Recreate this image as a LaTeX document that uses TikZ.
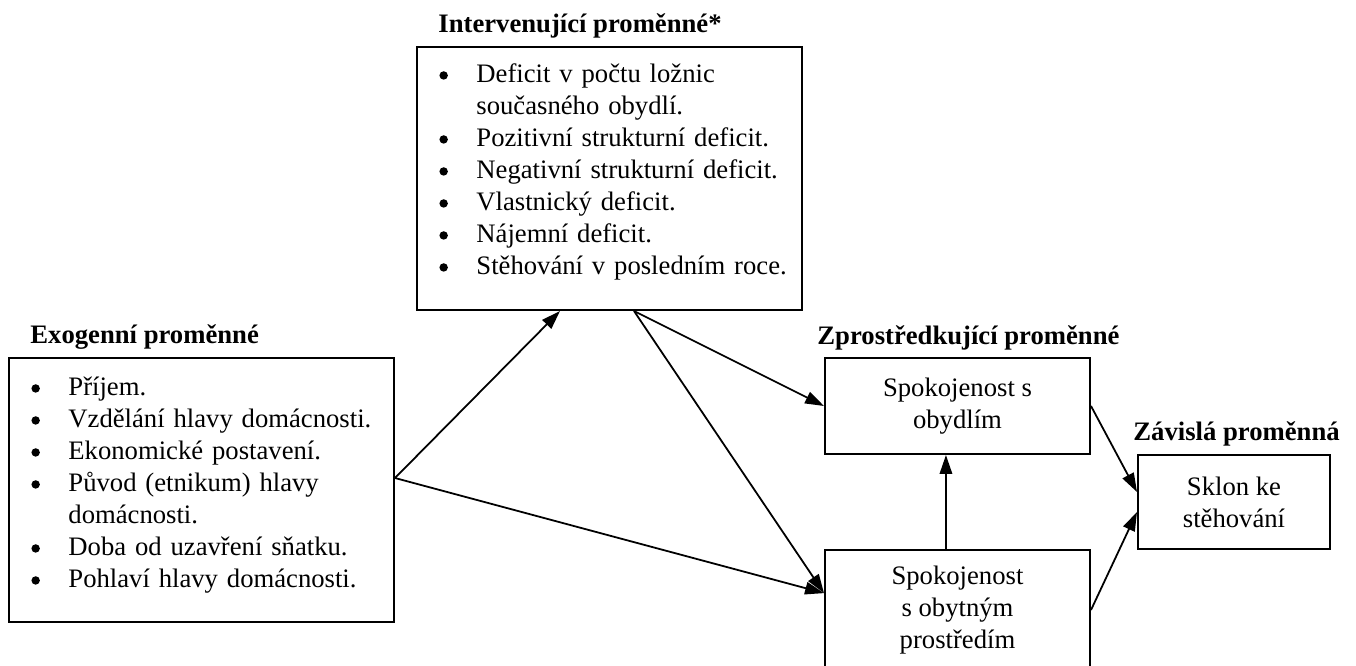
\documentclass[tikz,border=0pt]{standalone}
\usepackage{fontspec}
\setmainfont{Liberation Serif}
\usetikzlibrary{arrows.meta}
\newcommand{\bodyfont}{\fontsize{12pt}{14.4pt}\selectfont}
\newsavebox{\bulletbox}
\newcommand{\bl}{\makebox[16.65pt][l]{\raisebox{1.25pt}{\usebox{\bulletbox}}}}
\newcommand{\ind}{\hspace*{16.65pt}}
\tikzset{
  box/.style={draw, line width=0.9pt, rectangle, inner sep=0pt, font=\bodyfont, align=center},
  conn/.style={line width=0.8pt, -{Triangle[length=8.5pt,width=5.6pt]}},
  title/.style={font=\bodyfont\bfseries, anchor=base west, inner sep=0pt},
  list/.style={anchor=north west, inner sep=0pt, align=left, text width=165pt, font=\bodyfont}
}
\begin{document}
\sbox{\bulletbox}{\begin{pgfpicture}\pgfpathcircle{\pgfpoint{1.9pt}{1.9pt}}{1.9pt}\pgfusepath{fill}\end{pgfpicture}}%
\begin{tikzpicture}[x=0.45pt, y=-0.45pt]
\useasboundingbox (0,0) rectangle (1356,666);
\clip (0,0) rectangle (1356,666);

% boxes
\node[box, minimum width=173.25pt, minimum height=118.35pt] (int) at (609.5,178.5) {};
\node[box, minimum width=173.25pt, minimum height=118.8pt] (exo) at (201.5,490) {};
\node[box, minimum width=119.25pt, minimum height=43.2pt] (sat1) at (957.5,406) {Spokojenost s\\obydlím};
\node[box, minimum width=119.25pt, minimum height=54pt] (sat2) at (957.5,610) {Spokojenost\\s obytným\\prostředím};
\node[box, minimum width=86.4pt, minimum height=42.3pt] (dep) at (1234,502) {Sklon ke\\stěhování};

% titles
\node[title] (tint) at (438,32) {Intervenující proměnné*};
\node[title] (texo) at (30,343) {Exogenní proměnné};
\node[title] (tsat) at (817,344) {Zprostředkující proměnné};
\node[title] (tdep) at (1133,440) {Závislá proměnná};

% lists
\node[list] (lint) at (439,59.6) {\strut\bl Deficit v počtu ložnic\\
\ind současného obydlí.\\
\bl Pozitivní strukturní deficit.\\
\bl Negativní strukturní deficit.\\
\bl Vlastnický deficit.\\
\bl Nájemní deficit.\\
\bl Stěhování v posledním roce.};
\node[list] (lexo) at (31,372.6) {\strut\bl Příjem.\\
\bl Vzdělání hlavy domácnosti.\\
\bl Ekonomické postavení.\\
\bl Původ (etnikum) hlavy\\
\ind domácnosti.\\
\bl Doba od uzavření sňatku.\\
\bl Pohlaví hlavy domácnosti.};

% connectors
\coordinate (exoout) at ([yshift=5.4pt]exo.east);
\coordinate (intout) at ([xshift=11.025pt]int.south);
\coordinate (sat2in) at ([yshift=7.6pt]sat2.west);
\draw[conn] (exoout) -- ([xshift=-22.275pt]int.south);
\draw[conn] (exoout) -- (sat2in);
\draw[conn] (intout) -- (sat1.west);
\draw[conn] (intout) -- (sat2in);
\draw[conn] ([xshift=-5.2pt]sat2.north) -- ([xshift=-5.2pt]sat1.south);
\draw[conn] (sat1.east) -- ([yshift=4.5pt]dep.west);
\draw[conn] (sat2.east) -- ([yshift=-4.5pt]dep.west);
\end{tikzpicture}
\end{document}
